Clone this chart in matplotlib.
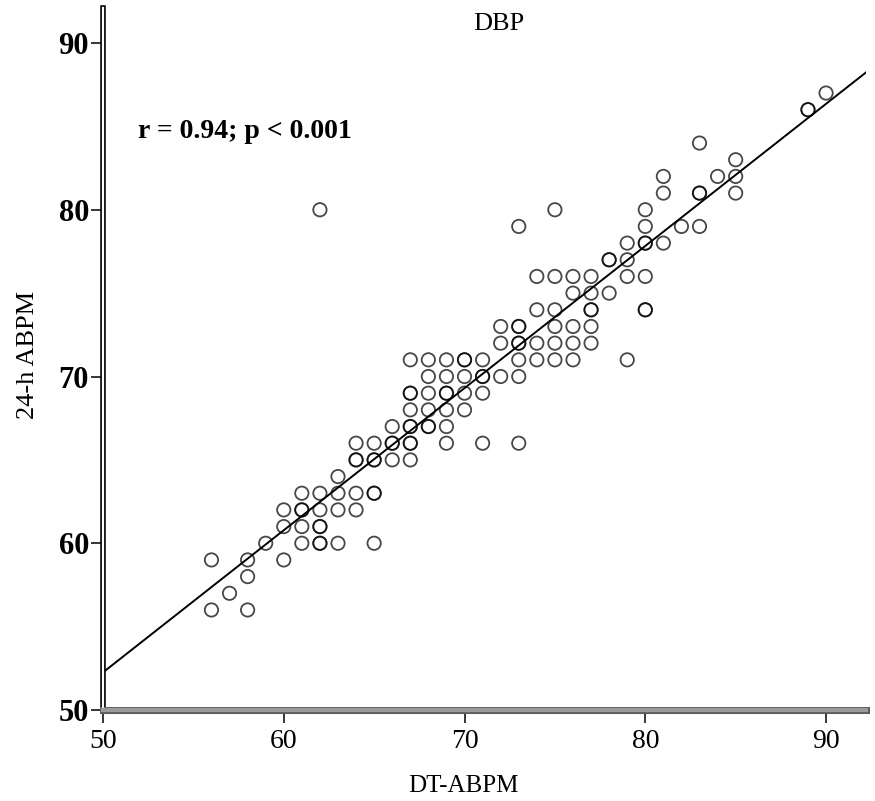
import numpy as np
import matplotlib
matplotlib.use("Agg")
import matplotlib.pyplot as plt
from matplotlib.lines import Line2D

# ---- data ----
rows = {
    56: [56, 58],
    57: [57],
    58: [58],
    59: [56, 58, 60],
    60: [59, 61, 62, 63, 65],
    61: [60, 61, 62],
    62: [60, 61, 62, 63, 64],
    63: [61, 62, 63, 64, 65],
    64: [63],
    65: [64, 65, 66, 67],
    66: [64, 65, 66, 67, 69, 71, 73],
    67: [66, 67, 68, 69],
    68: [67, 68, 69, 70],
    69: [67, 68, 69, 70, 71],
    70: [68, 69, 70, 71, 72, 73],
    71: [67, 68, 69, 70, 71, 73, 74, 75, 76, 79],
    72: [72, 73, 74, 75, 76, 77],
    73: [72, 73, 75, 76, 77],
    74: [74, 75, 77, 80],
    75: [76, 77, 78],
    76: [74, 75, 76, 77, 79, 80],
    77: [78, 79],
    78: [79, 80, 81],
    79: [73, 80, 82, 83],
    80: [62, 75, 80],
    81: [81, 83, 85],
    82: [81, 84, 85],
    83: [85],
    84: [83],
    86: [89],
    87: [90],
}
# repeated observations (darker circles)
repeat_dt = [62, 61, 64, 65, 66, 67, 67, 68, 67, 69, 71, 70, 73, 73, 78, 80, 77, 89, 83, 80, 65, 62]
repeat_24 = [60, 62, 65, 63, 66, 67, 66, 67, 69, 69, 70, 71, 73, 72, 77, 74, 74, 86, 81, 78, 65, 61]

dt_abpm = [x for y, xs in rows.items() for x in xs] + repeat_dt
abpm_24h = [y for y, xs in rows.items() for x in xs] + repeat_24

x_ticks = [50, 60, 70, 80, 90]
y_ticks = [50, 60, 70, 80, 90]

# ---- figure ----
W, H = 875, 801
fig = plt.figure(figsize=(W / 100, H / 100), dpi=100)
L, R, T, B = 103, 866, 8, 710
ax = fig.add_axes([L / W, 1 - B / H, (R - L) / W, (B - T) / H])
ax.set_xlim(50, 92.21)
ax.set_ylim(50, 92.1)

serif = ["Liberation Serif", "DejaVu Serif"]

x = np.array(dt_abpm, float)
y = np.array(abpm_24h, float)
ax.scatter(x, y, s=92, facecolors="none", edgecolors="black", alpha=0.72,
           linewidths=1.3, zorder=3)

slope, icpt = np.polyfit(x, y, 1)
xl = np.array([50, 92.21])
ax.plot(xl, icpt + slope * xl, color="black", lw=1.4, zorder=4)

# spines
for s in ["top", "right"]:
    ax.spines[s].set_visible(False)
ax.spines["left"].set_linewidth(4.0)
ax.spines["left"].set_color("black")
ax.spines["bottom"].set_linewidth(5.0)
ax.spines["bottom"].set_color("#555555")
ax.add_line(Line2D([0, 0], [0, 1], transform=ax.transAxes, color="white",
                   lw=1.6, clip_on=False, zorder=6))
ax.add_line(Line2D([0, 1], [0, 0], transform=ax.transAxes, color="#9a9a9a",
                   lw=3.2, clip_on=False, zorder=6))

ax.set_xticks(x_ticks)
ax.set_yticks(y_ticks)
ax.tick_params(axis="both", direction="out", length=9, width=1.1, color="black")
ax.tick_params(axis="y", pad=1)
ax.tick_params(axis="x", pad=5)
for lab in ax.get_xticklabels():
    lab.set_fontfamily(serif); lab.set_fontsize(20)
for lab in ax.get_yticklabels():
    lab.set_fontfamily(serif); lab.set_fontsize(22); lab.set_fontweight("bold")

ax.set_xlabel("DT-ABPM", fontsize=18, family=serif)
ax.set_ylabel("24-h ABPM", fontsize=19, family=serif)
ax.xaxis.set_label_coords((463 - L) / (R - L), (B - 786) / (B - T))
ax.xaxis.label.set_verticalalignment("center")
ax.yaxis.set_label_coords((28 - L) / (R - L), (B - 355) / (B - T))
ax.yaxis.label.set_verticalalignment("center")

ax.text((499 - L) / (R - L), (B - 24) / (B - T), "DBP", transform=ax.transAxes,
        ha="center", va="center", fontsize=19, family=serif)
ax.text((138 - L) / (R - L), (B - 132) / (B - T), "r = 0.94; p < 0.001",
        transform=ax.transAxes, ha="left", va="center", fontsize=20,
        family=serif, fontweight="bold")

fig.savefig("out.png", dpi=100)
